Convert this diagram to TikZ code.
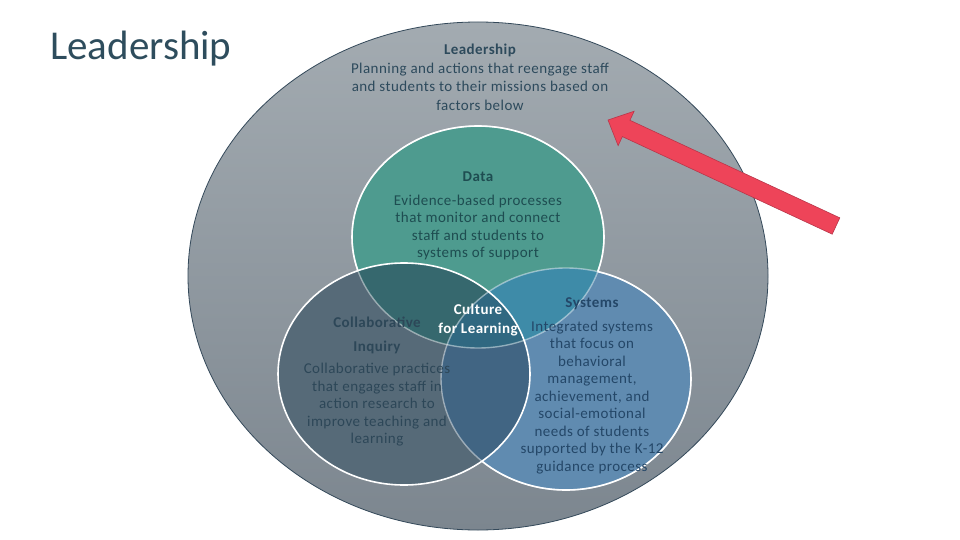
\documentclass[tikz,border=0pt]{standalone}
\usepackage{fontspec}
\setmainfont{Carlito}
\usetikzlibrary{calc}

\definecolor{leadtop}{HTML}{A3ABB1}
\definecolor{leadbottom}{HTML}{7C868F}
\definecolor{leadedge}{HTML}{34495A}
\definecolor{datafill}{HTML}{4E9B8F}
\definecolor{collabfill}{HTML}{566A78}
\definecolor{sysfill}{HTML}{608BB0}
\definecolor{dcfill}{HTML}{36686E}
\definecolor{dsfill}{HTML}{3E8BA8}
\definecolor{csfill}{HTML}{416583}
\definecolor{centerfill}{HTML}{306881}
\definecolor{titletext}{HTML}{2E4D5D}
\definecolor{leadtext}{HTML}{2D4A5C}
\definecolor{datatext}{HTML}{1E4D51}
\definecolor{collabtext}{HTML}{2D4758}
\definecolor{systext}{HTML}{244768}
\definecolor{arrowred}{HTML}{EE4459}
\definecolor{arrowedge}{HTML}{B8364A}

% the four regions, in pixel units
\def\leadpath{(478,276) ellipse [x radius=290, y radius=254]}
\def\datapath{(478,237) ellipse [x radius=126, y radius=111]}
\def\collabpath{(404,374) ellipse [x radius=126, y radius=111]}
\def\syspath{(566,379) ellipse [x radius=125, y radius=111]}
\def\pagepath{(0,0) rectangle (960,540)}

\begin{document}
\begin{tikzpicture}[
  x=1pt, y=-1pt,
  every node/.style={font=\fontsize{15}{17.5}\selectfont\addfontfeature{LetterSpace=3},
    align=center, inner sep=0pt},
  outer line/.style={white, line width=1.6pt},
  inner line/.style={white, opacity=0.45, line width=1.4pt}
]
\useasboundingbox \pagepath;
\fill[white] \pagepath;

% ------------------------------------------------------------
% Leadership circle
% ------------------------------------------------------------
\shade[top color=leadtop, bottom color=leadbottom] \leadpath;
\draw[leadedge, line width=0.8pt] \leadpath;

% ------------------------------------------------------------
% The three inner circles and their overlaps
% ------------------------------------------------------------
\fill[datafill] \datapath;
\fill[sysfill] \syspath;
\fill[collabfill] \collabpath;
\begin{scope}
  \clip \collabpath;
  \fill[csfill] \syspath;
\end{scope}
\begin{scope}
  \clip \datapath;
  \fill[dcfill] \collabpath;
  \fill[dsfill] \syspath;
  \clip \collabpath;
  \fill[centerfill] \syspath;
\end{scope}

% outlines: faint inside, white outside
\draw[inner line] \datapath;
\draw[inner line] \syspath;
\begin{scope}[even odd rule]
  \clip \pagepath \collabpath;
  \clip \pagepath \syspath;
  \draw[outer line] \datapath;
\end{scope}
\begin{scope}[even odd rule]
  \clip \pagepath \collabpath;
  \clip \pagepath \datapath;
  \draw[outer line] \syspath;
\end{scope}
\draw[outer line] \collabpath;

% ------------------------------------------------------------
% Red arrow
% ------------------------------------------------------------
\coordinate (tip) at (608,120);
\coordinate (tail) at (836,226);
\coordinate (neck) at ($(tip)!20pt!(tail)$);
\fill[arrowred, draw=arrowedge, line width=0.6pt]
  (tip) -- ($(neck)!19pt!90:(tip)$) -- ($(neck)!9pt!90:(tip)$)
  -- ($(tail)!9pt!90:(tip)$) -- ($(tail)!9pt!-90:(tip)$)
  -- ($(neck)!9pt!-90:(tip)$) -- ($(neck)!19pt!-90:(tip)$) -- cycle;

% ------------------------------------------------------------
% Texts
% ------------------------------------------------------------
\node[font=\fontsize{41}{48}\selectfont, text=titletext, anchor=base west]
  (title) at (50,60) {Leadership};

\node[text=leadtext] (lead) at (480,77)
  {{\bfseries Leadership}\\[1.5pt]Planning and actions that reengage staff\\[1pt]
   and students to their missions based on\\[1pt]factors below};

\node[text=datatext] (data) at (478,216)
  {{\bfseries Data}\\[6pt]Evidence-based processes\\that monitor and connect\\
   staff and students to\\systems of support};

\node[text=collabtext] (collab) at (377,382)
  {{\bfseries Collaborative}\\[6pt]{\bfseries Inquiry}\\[5pt]Collaborative practices\\
   that engages staff in\\action research to\\improve teaching and\\learning};

\node[text=systext] (systems) at (592,386)
  {{\bfseries Systems}\\[6pt]Integrated systems\\that focus on\\behavioral\\management,\\
   achievement, and\\social-emotional\\needs of students\\supported by the K-12\\
   guidance process};

\node[text=white,
  font=\fontsize{15}{19}\selectfont\bfseries\addfontfeature{LetterSpace=3}]
  (culture) at (478,320) {Culture\\for Learning};

\end{tikzpicture}
\end{document}
